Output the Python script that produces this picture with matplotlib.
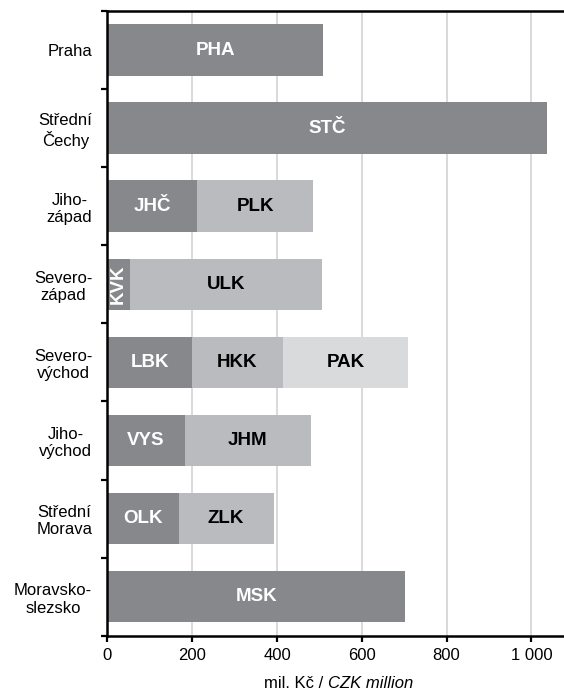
import numpy as np
import matplotlib.pyplot as plt
from matplotlib.ticker import FixedLocator, FuncFormatter

plt.rcParams['font.family'] = ['Liberation Sans', 'DejaVu Sans']

# regions (top to bottom) and their stacked kraj segments, mil. Kč
regions = ["Praha", "Střední\nČechy", "Jiho-\nzápad", "Severo-\nzápad",
           "Severo-\nvýchod", "Jiho-\nvýchod", "Střední\nMorava", "Moravsko-\nslezsko"]
seg1_codes = ["PHA", "STČ", "JHČ", "KVK", "LBK", "VYS", "OLK", "MSK"]
seg1_vals = [509, 1036, 212, 52, 200, 182, 168, 702]
seg2_codes = ["", "", "PLK", "ULK", "HKK", "JHM", "ZLK", ""]
seg2_vals = [0, 0, 273, 454, 213, 298, 224, 0]
seg3_codes = ["", "", "", "", "PAK", "", "", ""]
seg3_vals = [0, 0, 0, 0, 297, 0, 0, 0]
xticks = [0, 200, 400, 600, 800, 1000]

colors = ["#86888b", "#b9bbbe", "#d9dadc"]
text_colors = ["white", "black", "black"]

fig = plt.figure(figsize=(5.64, 6.93), dpi=100)
ax = fig.add_axes([0.1906, 0.0827, 0.8094, 0.9014])

y = np.arange(len(regions))
left = np.zeros(len(regions))
for vals, codes, col, tcol in zip([seg1_vals, seg2_vals, seg3_vals],
                                  [seg1_codes, seg2_codes, seg3_codes],
                                  colors, text_colors):
    vals = np.array(vals, dtype=float)
    ax.barh(y, vals, left=left, height=0.66, color=col, zorder=2)
    for yi, l, v, c in zip(y, left, vals, codes):
        if not c:
            continue
        rot = 90 if v < 80 else 0
        ax.text(l + v / 2, yi, c, ha='center', va='center', color=tcol,
                fontsize=13.5, fontweight='bold', rotation=rot, zorder=3)
    left += vals

ax.set_xlim(0, 1077)
ax.set_ylim(len(regions) - 0.5, -0.5)

ax.xaxis.set_major_locator(FixedLocator(xticks))
ax.xaxis.set_major_formatter(FuncFormatter(lambda v, p: f"{int(v):,}".replace(",", " ")))
ax.grid(axis='x', color='#d0d0d0', linewidth=1.1, zorder=0)
ax.set_axisbelow(True)

# y ticks at category boundaries, labels at centres
ax.set_yticks(np.arange(-0.5, len(regions), 1.0))
ax.set_yticklabels([])
ax.set_yticks(y, minor=True)
ax.set_yticklabels(regions, minor=True, fontsize=12, multialignment='center')
ax.tick_params(axis='y', which='minor', length=0, pad=11)
ax.tick_params(axis='y', which='major', length=4, width=1.6, direction='out')
ax.tick_params(axis='x', length=4, width=1.6, labelsize=12, pad=5)

for s in ['left', 'bottom', 'top']:
    ax.spines[s].set_linewidth(1.8)
    ax.spines[s].set_color('black')
ax.spines['right'].set_visible(False)

fig.text(0.5816, 0.0144, "mil. Kč / ", ha='right', va='center', fontsize=12)
fig.text(0.5816, 0.0144, "CZK million", ha='left', va='center', fontsize=12, style='italic')

fig.savefig("out.png", dpi=100)
